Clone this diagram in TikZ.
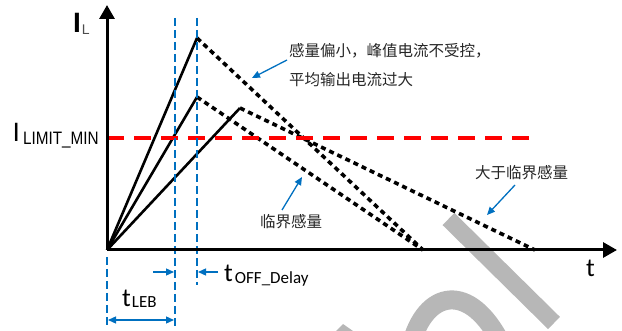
\documentclass[tikz,border=0pt]{standalone}
\usepackage{fontspec}
\setmainfont{Liberation Sans}
\newfontfamily\cjk{Noto Sans CJK SC}
\newfontfamily\calfont{Carlito}
\newfontfamily\narrowfont[FakeStretch=0.85]{Liberation Sans}
\usetikzlibrary{arrows.meta}
\definecolor{wblue}{RGB}{0,112,192}
\definecolor{wmark}{RGB}{183,183,183}
\begin{document}
\begin{tikzpicture}[x=1pt,y=-1pt,
  axis/.style={line width=3pt,-{Triangle[length=14pt,width=15pt]}},
  ramp/.style={line width=2.6pt},
  fall/.style={line width=3.6pt,dash pattern=on 5pt off 4pt},
  limit/.style={line width=4pt,red,dash pattern=on 17pt off 10pt},
  guide/.style={wblue,line width=1.2pt,dash pattern=on 8pt off 4pt},
  pointer/.style={wblue,line width=1.3pt,-{Triangle[length=8pt,width=7pt]}},
  lbl/.style={inner sep=0pt,anchor=base west},
  cn/.style={inner sep=0pt,anchor=west,text=black!85,font=\cjk\fontsize{15.5}{15.5}\selectfont},
  wmstroke/.style={wmark,line width=17pt}
]
\useasboundingbox (0,0) rectangle (622,331);
% watermark
\draw[wmstroke] (448.5,219) -- (554,323);
\draw[wmark,line width=19pt] (411,345) .. controls (425,290) and (470,280) .. (502,345);
\fill[wmark] (336,331) -- (343,324) -- (353,331) -- cycle;
% coordinates
\coordinate (O) at (107,250);
\coordinate (ytop) at (107,5);
\coordinate (xend) at (617,250);
\coordinate (P1) at (197,38);
\coordinate (P2) at (197,97);
\coordinate (P3) at (240,108);
\coordinate (E12) at (423,250);
\coordinate (E3) at (535,250);
\coordinate (L0) at (107,138);
\coordinate (L1) at (532,138);
% ramps
\draw[ramp] (O) -- (P1);
\draw[ramp] (O) -- (P2);
\draw[ramp] (O) -- (P3);
\draw[fall] (P1) -- (E12);
\draw[fall] (P2) -- (E12);
\draw[fall] (P3) -- (E3);
\draw[limit] (L0) -- (L1);
% guides
\coordinate (g1t) at (175,18); \coordinate (g1b) at (175,327);
\coordinate (g2t) at (197,18); \coordinate (g2b) at (197,285);
\coordinate (g0t) at (107,257); \coordinate (g0b) at (107,327);
\draw[guide] (g1t) -- (g1b);
\draw[guide] (g2t) -- (g2b);
\draw[guide] (g0t) -- (g0b);
% axes
\draw[axis] (O) -- (ytop);
\draw[axis] (O) -- (xend);
% labels
\node[lbl] (IL) at (73,33) {{\bfseries\fontsize{28}{28}\selectfont I}\hspace{1pt}\raisebox{-2pt}{\color{black!70}\fontsize{14}{14}\selectfont L}};
\node[lbl] (ILIM) at (12.5,142) {{\fontsize{26.5}{26.5}\selectfont I}\hspace{3pt}\raisebox{-3pt}{\narrowfont\fontsize{18}{18}\selectfont LIMIT\_MIN}};
\node[lbl] (toff) at (224,282) {\calfont\fontsize{26}{26}\selectfont t\hspace{2pt}\raisebox{-1.5pt}{\fontsize{17}{17}\selectfont OFF\_Delay}};
\node[lbl] (tleb) at (122,307) {\calfont\fontsize{26}{26}\selectfont t\hspace{1pt}\raisebox{-1pt}{\fontsize{17}{17}\selectfont LEB}};
\node[lbl] (tax) at (586,277) {\calfont\fontsize{26}{26}\selectfont t};
\node[cn] (c1) at (289,51) {感量偏小，峰值电流不受控，};
\node[cn] (c2) at (289,80) {平均输出电流过大};
\node[cn] (c3) at (260,222) {临界感量};
\node[cn] (c4) at (475,173) {大于临界感量};
% pointers
\coordinate (a1s) at (287,60); \coordinate (a1e) at (252,78);
\coordinate (a2s) at (282,210); \coordinate (a2e) at (302,177);
\coordinate (a3s) at (515,185); \coordinate (a3e) at (487,215);
\coordinate (a4s) at (153,272); \coordinate (a4e) at (174,272);
\coordinate (a5s) at (218,272); \coordinate (a5e) at (198,272);
\coordinate (a6s) at (108,320); \coordinate (a6e) at (174,320);
\draw[pointer] (a1s) -- (a1e);
\draw[pointer] (a2s) -- (a2e);
\draw[pointer] (a3s) -- (a3e);
\draw[pointer] (a4s) -- (a4e);
\draw[pointer] (a5s) -- (a5e);
\draw[pointer,{Triangle[length=8pt,width=7pt]}-{Triangle[length=8pt,width=7pt]}] (a6s) -- (a6e);
\end{tikzpicture}
\end{document}
